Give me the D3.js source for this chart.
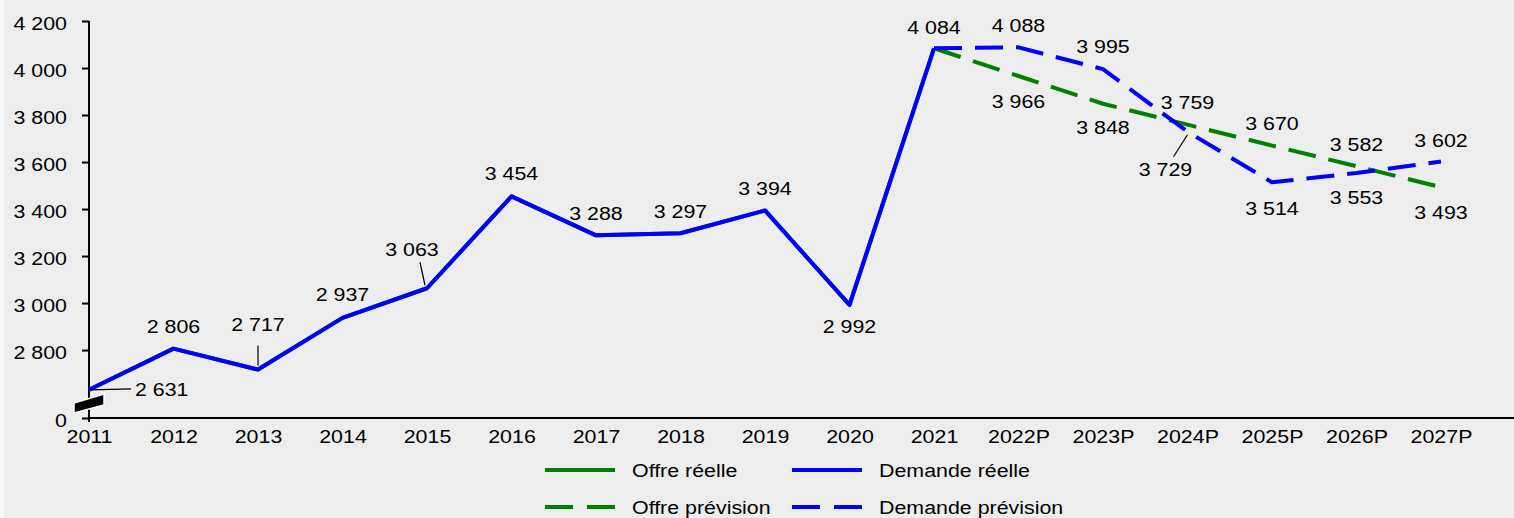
<!DOCTYPE html>
<html><head><meta charset="utf-8">
<script src="https://cdn.jsdelivr.net/npm/d3@7"></script>
<style>
html,body{margin:0;padding:0;background:#ffffff;}
svg{display:block;}
text{font-family:"Liberation Sans",Arial,sans-serif;fill:#000;}
</style></head>
<body>
<svg id="chart" width="1514" height="518"></svg>
<script>
// ---- data ----
const categories = ["2011","2012","2013","2014","2015","2016","2017","2018","2019","2020","2021","2022P","2023P","2024P","2025P","2026P","2027P"];
const realCategories = ["2011","2012","2013","2014","2015","2016","2017","2018","2019","2020","2021"];
const forecastCategories = ["2021","2022P","2023P","2024P","2025P","2026P","2027P"];
const offreReelle     = [2631,2806,2717,2937,3063,3454,3288,3297,3394,2992,4084];
const demandeReelle   = [2631,2806,2717,2937,3063,3454,3288,3297,3394,2992,4084];
const offrePrevision  = [4084,3966,3848,3759,3670,3582,3493];
const demandePrevision= [4084,4088,3995,3729,3514,3553,3602];
const yTicks = [2800,3000,3200,3400,3600,3800,4000,4200];
const yMin = 2511, yMax = 4200; // axis is broken: bottom labelled 0
const legendLabels = ["Offre réelle","Demande réelle","Offre prévision","Demande prévision"];

// ---- layout ----
const W = 1514, H = 518;
const svg = d3.select("#chart");
svg.append("rect").attr("x",4).attr("y",0).attr("width",W-4).attr("height",H).attr("fill","#ededed");
svg.append("rect").attr("x",0).attr("y",0).attr("width",4).attr("height",H).attr("fill","#f6f6f6");

const FS = 18.6, SX = 1.15;
const FONT = '"Liberation Sans",Arial,sans-serif';
const x = d3.scalePoint().domain(categories).range([89,1441]);
const y = d3.scaleLinear().domain([yMin,yMax]).range([418,21]);
const loc = d3.formatLocale({thousands:"\u00a0",grouping:[3],decimal:",",currency:["",""]});
const fmt = loc.format(",");

const GREEN = "#008000", BLUE = "#0000ff";

// axes
const yAxis = d3.axisLeft(y).tickValues([yMin].concat(yTicks)).tickSize(7).tickPadding(15)
  .tickFormat(d => d===yMin ? "0" : fmt(d));
const gy = svg.append("g").attr("transform","translate(89,0)").call(yAxis);
gy.attr("font-size",null).attr("font-family",null);
gy.select(".domain").attr("d","M0,21V422").attr("stroke","#000").attr("stroke-width",2);
gy.selectAll(".tick line").attr("stroke","#000").attr("stroke-width",2);
gy.selectAll(".tick text").attr("dy","0.45em");

const xAxis = d3.axisBottom(x).tickSize(0).tickPadding(12);
const gx = svg.append("g").attr("transform","translate(0,418)").call(xAxis);
gx.attr("font-size",null).attr("font-family",null);
gx.select(".domain").attr("d","M89,0H1514").attr("stroke","#000").attr("stroke-width",2);

// axis break marker
svg.append("path").attr("d","M74,403L104,394L104,405L74,413Z").attr("fill","#000").attr("stroke","#fff").attr("stroke-width",1.5);

// lines
const line = d3.line().x(d=>x(d[0])).y(d=>y(d[1]));
const dash = "28,13";
function drawLine(cats, vals, color, dashed){
  svg.append("path").datum(cats.map((c,i)=>[c,vals[i]])).attr("d",line)
    .attr("fill","none").attr("stroke",color).attr("stroke-width",4)
    .attr("stroke-linejoin","round")
    .attr("stroke-dasharray",dashed?dash:null);
}
drawLine(realCategories, offreReelle, GREEN, false);
drawLine(realCategories, demandeReelle, BLUE, false);
drawLine(forecastCategories, offrePrevision, GREEN, true);
drawLine(forecastCategories, demandePrevision, BLUE, true);

// data labels: placement config (offsets from point)
const labels = [];
realCategories.forEach((c,i)=>labels.push({c, v:demandeReelle[i], key:"r"+i}));
forecastCategories.forEach((c,i)=>{ if(i>0){ labels.push({c, v:offrePrevision[i], key:"o"+i}); labels.push({c, v:demandePrevision[i], key:"d"+i}); }});
const place = {
  r0:{dx:46,dy:0,anchor:"start",leader:[2,0,42,-1]},
  r1:{dy:-22}, r2:{dy:-45,leader:[0,-4,0,-24]}, r3:{dy:-23},
  r4:{dx:-15,dy:-39,leader:[-2,-3,-7,-26]},
  r5:{dy:-23}, r6:{dy:-22}, r7:{dy:-22}, r8:{dy:-22}, r9:{dy:22}, r10:{dy:-21},
  d1:{dy:-22}, o1:{dy:25}, d2:{dy:-23}, o2:{dy:24},
  o3:{dy:-22}, d3:{dx:-22,dy:38,leader:[0,3,-14,25]},
  o4:{dy:-22}, d4:{dy:26}, o5:{dy:-22}, d5:{dy:24}, d6:{dy:-21}, o6:{dy:25}
};
labels.forEach(l=>{
  const p = place[l.key]||{dy:-22};
  const px = x(l.c), py = y(l.v);
  if(p.leader){
    const a=p.leader;
    svg.append("line").attr("x1",px+a[0]).attr("y1",py+a[1]).attr("x2",px+a[2]).attr("y2",py+a[3]).attr("stroke","#000").attr("stroke-width",1.2);
  }
  svg.append("text").attr("x",px+(p.dx||0)).attr("y",py+p.dy).attr("dy","0.35em")
    .attr("text-anchor",p.anchor||"middle").text(fmt(l.v));
});

// legend
const legendItems = [
  {t:legendLabels[0],c:GREEN,d:false,x:545,y:470},
  {t:legendLabels[1],c:BLUE,d:false,x:792,y:470},
  {t:legendLabels[2],c:GREEN,d:true,x:545,y:507},
  {t:legendLabels[3],c:BLUE,d:true,x:792,y:507}
];
legendItems.forEach(it=>{
  svg.append("line").attr("x1",it.x).attr("x2",it.x+70).attr("y1",it.y).attr("y2",it.y)
    .attr("stroke",it.c).attr("stroke-width",4).attr("stroke-dasharray",it.d?"28,14":null);
  svg.append("text").attr("x",it.x+87).attr("y",it.y).attr("dy","0.35em").text(it.t);
});

// uniform text styling with horizontal stretch (reference text is widened)
svg.selectAll("text").each(function(){
  const t = d3.select(this);
  const tx = +(t.attr("x")||0), ty = +(t.attr("y")||0);
  t.attr("x",0).attr("y",0)
   .attr("transform",`translate(${tx},${ty}) scale(${SX},1)`)
   .attr("font-size",FS).attr("font-family",FONT).attr("fill","#000");
});
</script>
</body></html>
